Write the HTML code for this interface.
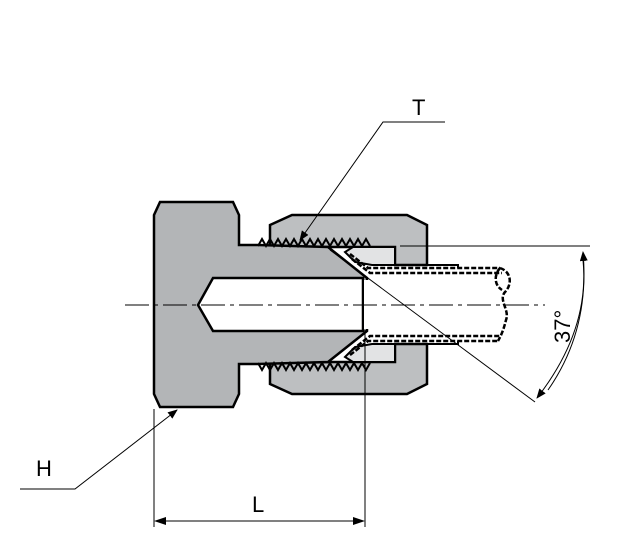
<!DOCTYPE html>
<html><head><style>body{margin:0;background:#fff}svg{display:block}</style></head><body>
<svg width="625" height="553" viewBox="0 0 625 553" xmlns="http://www.w3.org/2000/svg" font-family="Liberation Sans, sans-serif">
<defs><marker id="a" markerWidth="10" markerHeight="8" refX="9" refY="4" orient="auto" markerUnits="userSpaceOnUse"><path d="M0,0L10,4L0,8z" fill="#000"/></marker></defs>
<!-- nut -->
<path d="M270,225L292,215L407,215L427,225L427,265L395,265L395,247L353,247L330,247L270,247Z" fill="#bdbfc1" stroke="#000" stroke-width="2.5"/>
<path d="M270,384L292,394L407,394L427,384L427,344L395,344L395,362L353,362L330,362L270,362Z" fill="#bdbfc1" stroke="#000" stroke-width="2.5"/>
<!-- sleeves -->
<path d="M353,247L395,247L395,265L372,265L355,262L345,252Z" fill="#e2e3e4" stroke="#000" stroke-width="2"/>
<path d="M353,362L395,362L395,344L372,344L355,347L345,357Z" fill="#e2e3e4" stroke="#000" stroke-width="2"/>
<!-- body -->
<path d="M154,215L160,202L233,202L239,215L239,245L258,245L328,247L367,278L367,331L328,362L258,364L239,364L239,394L233,407L160,407L154,394Z" fill="#b3b5b7" stroke="#000" stroke-width="2.5"/>
<path d="M258,246l4,-7l4,7l4,-7l4,7l4,-7l4,7l4,-7l4,7l4,-7l4,7l4,-7l4,7l4,-7l4,7l4,-7l4,7l4,-7l4,7l4,-7l4,7l4,-7l4,7l4,-7l4,7l4,-7l4,7l4,-7l4,7" fill="none" stroke="#000" stroke-width="2"/>
<path d="M258,363l4,7l4,-7l4,7l4,-7l4,7l4,-7l4,7l4,-7l4,7l4,-7l4,7l4,-7l4,7l4,-7l4,7l4,-7l4,7l4,-7l4,7l4,-7l4,7l4,-7l4,7l4,-7l4,7l4,-7l4,7l4,-7" fill="none" stroke="#000" stroke-width="2"/>
<!-- bore -->
<path d="M213,278L363,278L363,331L213,331L198,305Z" fill="#fff" stroke="#000" stroke-width="2.5"/>
<rect x="364" y="280" width="6" height="49" fill="#fff"/>
<!-- tube -->
<g fill="none" stroke="#000" stroke-width="2.5" stroke-dasharray="5,2">
<path d="M350,254L368,268L500,268"/><path d="M352,259L370,273L502,273"/>
<path d="M352,350L370,336L500,336"/><path d="M350,355L368,341L498,341"/>
<path d="M500,268C512,272 512,285 505,292C498,300 510,310 506,320C504,328 502,334 498,341"/>
<path d="M500,268C494,275 494,285 502,290"/>
</g>
<path d="M395,265L458,265L458,268M395,344L458,344L458,341" fill="none" stroke="#000" stroke-width="2"/>
<!-- center line -->
<path d="M125,305L545,305" stroke="#000" stroke-width="1" stroke-dasharray="24,5,4,5"/>
<!-- 37 deg -->
<path d="M400,246L590,246" stroke="#000" stroke-width="1"/>
<path d="M330,250L535,402" stroke="#000" stroke-width="1"/>
<path d="M548,390Q590,330 583,252" fill="none" stroke="#000" stroke-width="1" marker-end="url(#a)"/>
<path d="M583,260Q590,330 537,398" fill="none" stroke="#000" stroke-width="1" marker-end="url(#a)"/>
<text x="0" y="0" font-size="22" transform="translate(570,343) rotate(-90)">37°</text>
<!-- T -->
<path d="M445,122L383,122L300,240" fill="none" stroke="#000" stroke-width="1" marker-end="url(#a)"/>
<text x="412" y="115" font-size="22">T</text>
<!-- H -->
<path d="M20,489L75,489L177,410" fill="none" stroke="#000" stroke-width="1" marker-end="url(#a)"/>
<text x="36" y="476" font-size="22">H</text>
<!-- L -->
<path d="M154,409L154,527M365,330L365,527" stroke="#000" stroke-width="1"/>
<path d="M160,521L359,521" stroke="#000" stroke-width="1"/>
<path d="M154,521L166,517L166,525Z M365,521L353,517L353,525Z" fill="#000"/>
<text x="252" y="512" font-size="22">L</text>
</svg>
</body></html>
